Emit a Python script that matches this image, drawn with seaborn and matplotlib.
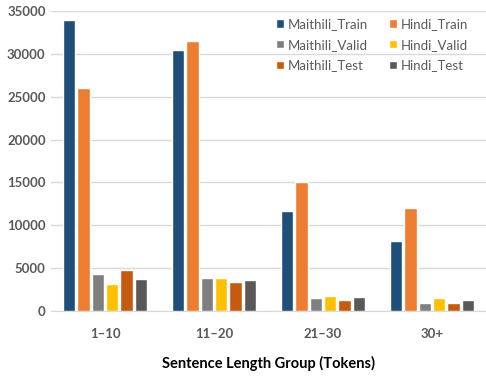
import matplotlib
matplotlib.use("Agg")
import matplotlib.pyplot as plt
import seaborn as sns
import pandas as pd

# chart data
groups = ["1\u201310", "11\u201320", "21\u201330", "30+"]
series = ["Maithili_Train", "Hindi_Train", "Maithili_Valid",
          "Hindi_Valid", "Maithili_Test", "Hindi_Test"]
maithili_train = [34000, 30500, 11700, 8200]
hindi_train = [26000, 31500, 15000, 12000]
maithili_valid = [4300, 3900, 1500, 900]
hindi_valid = [3200, 3900, 1800, 1500]
maithili_test = [4800, 3400, 1300, 900]
hindi_test = [3800, 3600, 1700, 1300]
colors = ["#1F4E79", "#ED7D31", "#7F7F7F", "#FFC000", "#C55A11", "#595959"]

values = [maithili_train, hindi_train, maithili_valid,
          hindi_valid, maithili_test, hindi_test]
rows = []
for name, vals in zip(series, values):
    for g, v in zip(groups, vals):
        rows.append({"group": g, "series": name, "count": v})
df = pd.DataFrame(rows)

sns.set_style("white")
plt.rcParams["font.family"] = ["Lato", "DejaVu Sans"]

fig = plt.figure(figsize=(4.86, 3.78), dpi=100)
ax = fig.add_axes([0.104, 0.177, 0.897, 0.794])

sns.barplot(data=df, x="group", y="count", hue="series", order=groups,
            hue_order=series, palette=colors, width=0.79, gap=0.15,
            saturation=1, ax=ax, zorder=3)

ax.set_ylim(0, 35000)
ax.set_yticks(range(0, 35001, 5000))
ax.yaxis.grid(True, color="#D9D9D9", linewidth=1, zorder=0)
ax.set_axisbelow(True)
for s in ["top", "right", "left"]:
    ax.spines[s].set_visible(False)
ax.spines["bottom"].set_color("#D9D9D9")
ax.tick_params(axis="both", length=0, labelsize=9.5, colors="#595959")
for lbl in ax.get_yticklabels() + ax.get_xticklabels():
    lbl.set_fontweight("bold")
ax.tick_params(axis="x", pad=12)
ax.set_ylabel("")
ax.set_xlabel("Sentence Length Group (Tokens)", fontsize=10.5,
              fontweight="bold", color="black", labelpad=12)

# legend laid out row by row, like the original
handles, labels = ax.get_legend_handles_labels()
order = [0, 2, 4, 1, 3, 5]
ax.legend([handles[i] for i in order], [labels[i] for i in order],
          loc="upper left", bbox_to_anchor=(0.49, 1.015), ncol=2,
          frameon=False, fontsize=9.5, handlelength=0.6, handleheight=0.6,
          handletextpad=0.3, columnspacing=1.6, labelspacing=0.65,
          labelcolor="#595959")

fig.savefig("out.png", dpi=100)
